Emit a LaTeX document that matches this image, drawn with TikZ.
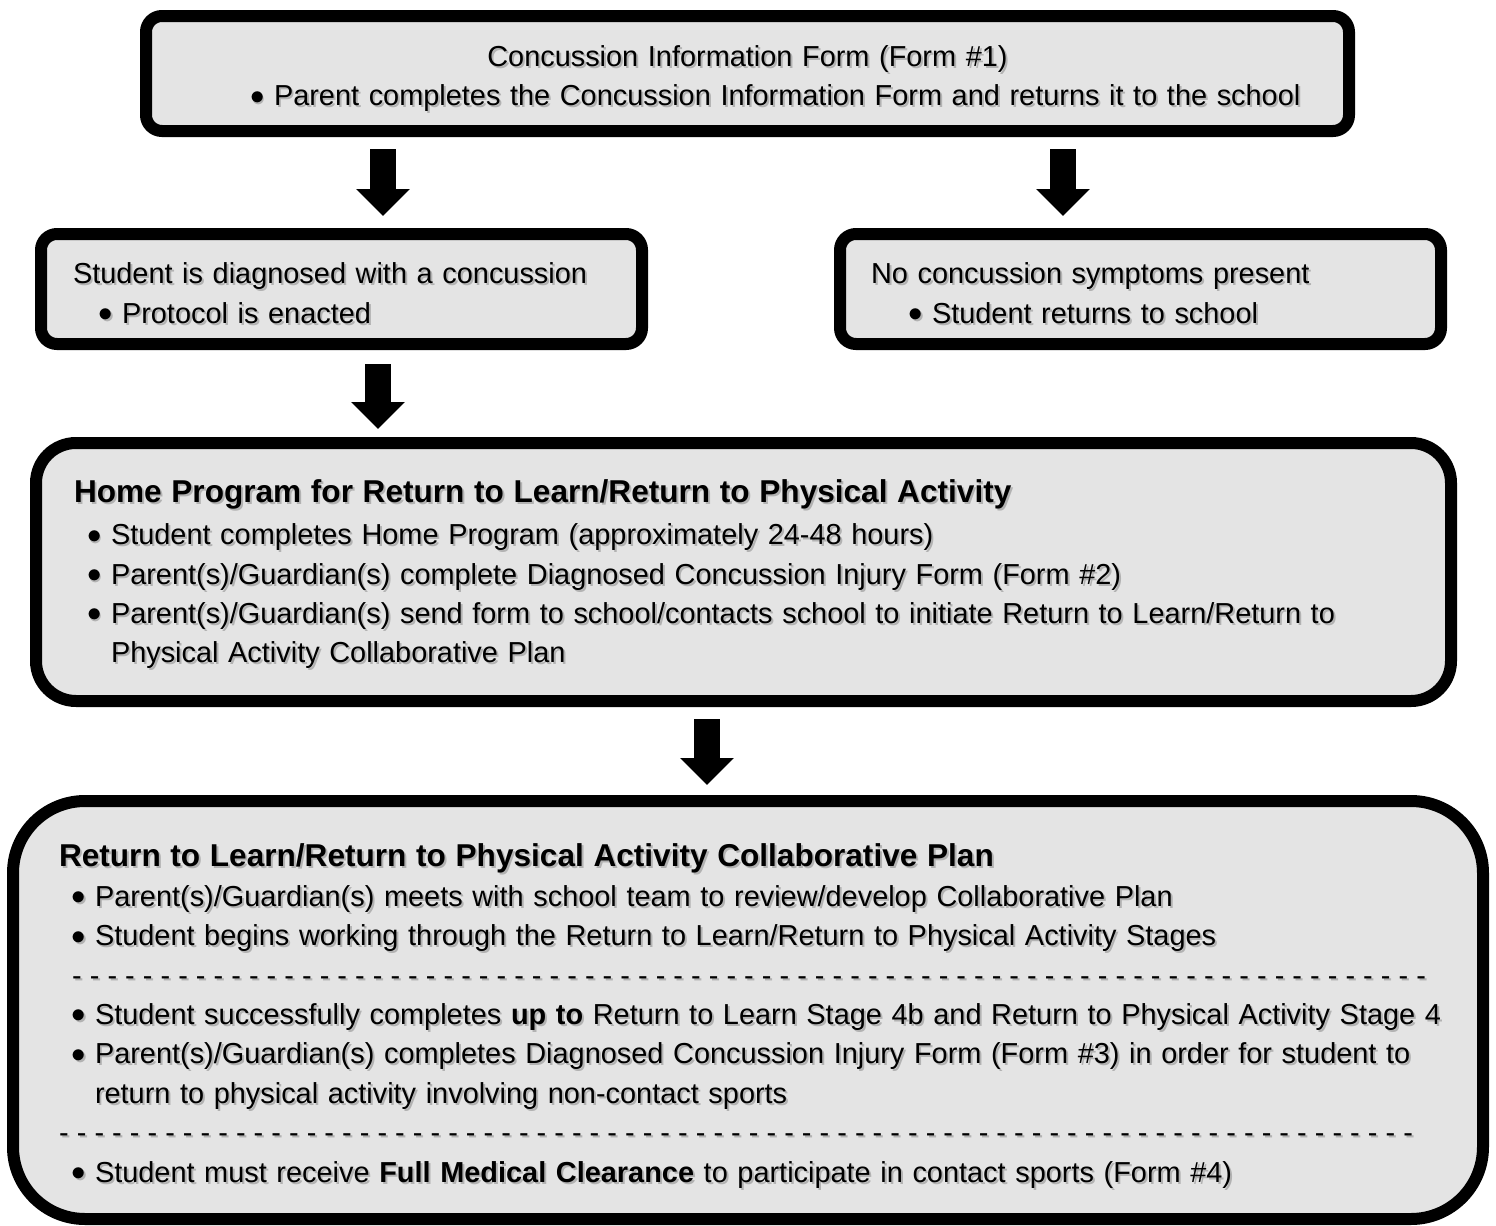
\documentclass[tikz,border=0pt]{standalone}
\usepackage{fontspec}
\setmainfont{Liberation Sans}
\usetikzlibrary{arrows.meta}
\definecolor{boxgray}{RGB}{228,228,228}
\newcommand{\sh}[1]{\leavevmode\rlap{\hspace{1pt}\raisebox{-1pt}{\textcolor{black!30}{#1}}}#1}
\newcommand{\itm}[1]{\hspace*{#1}\makebox[12pt][l]{\sh{\raisebox{0.8pt}{$\bullet$}}}}
\newcommand{\dashrow}[1]{\hspace*{#1}\sh{\hbox to 681pt{\xleaders\hbox to 8.75pt{-\hss}\hfil}}}
\newcommand{\ttl}[1]{{\fontsize{15.8}{19.7}\selectfont\bfseries\sh{#1}}}

\begin{document}
\begin{tikzpicture}[x=0.5pt,y=-0.5pt,
  formbox/.style={draw,line width=6pt,fill=boxgray,rounded corners=8pt,
    inner xsep=0pt,inner ysep=0pt,align=left,
    font=\fontsize{14.45}{19.7}\selectfont},
  blockarrow/.style={line width=13pt,-{Triangle[width=26pt,length=13.5pt]}}]
  \useasboundingbox (0,0) rectangle (1496,1226);

  \node[formbox,text width=601.5pt,minimum height=57.5pt] (info) at (747.5,73.5)
    {\rule{0pt}{16.5pt}\makebox[\linewidth]{\sh{Concussion Information Form (Form \#1)}}\\
     \itm{52pt}\sh{Parent completes the Concussion Information Form and returns it to the school}};
  \node[formbox,text width=300.5pt,minimum height=55pt] (diag) at (341.5,289)
    {\hspace*{16pt}\rule{0pt}{15.5pt}\sh{Student is diagnosed with a concussion}\\
     \itm{28.5pt}\sh{Protocol is enacted}};
  \node[formbox,text width=300.5pt,minimum height=55pt] (none) at (1140.5,289)
    {\hspace*{15.5pt}\rule{0pt}{15.5pt}\sh{No concussion symptoms present}\\
     \itm{34pt}\sh{Student returns to school}};
  \node[formbox,rounded corners=20pt,text width=707.5pt,minimum height=129pt] (home) at (743.5,572)
    {\hspace*{19pt}\rule{0pt}{14.5pt}\ttl{Home Program for Return to Learn/Return to Physical Activity}\\[1.5pt]
     \itm{25.5pt}\sh{Student completes Home Program (approximately 24-48 hours)}\\
     \itm{25.5pt}\sh{Parent(s)/Guardian(s) complete Diagnosed Concussion Injury Form (Form \#2)}\\
     \itm{25.5pt}\sh{Parent(s)/Guardian(s) send form to school/contacts school to initiate Return to Learn/Return to}\\
     \hspace*{37.5pt}\sh{Physical Activity Collaborative Plan}};
  \node[formbox,rounded corners=36pt,text width=735pt,minimum height=209pt] (plan) at (748,1010)
    {\hspace*{23pt}\rule{0pt}{18.5pt}\ttl{Return to Learn/Return to Physical Activity Collaborative Plan}\\
     \itm{29pt}\sh{Parent(s)/Guardian(s) meets with school team to review/develop Collaborative Plan}\\
     \itm{29pt}\sh{Student begins working through the Return to Learn/Return to Physical Activity Stages}\\
     \dashrow{29.5pt}\\
     \itm{29pt}\sh{Student successfully completes \textbf{up to} Return to Learn Stage 4b and Return to Physical Activity Stage 4}\\
     \itm{29pt}\sh{Parent(s)/Guardian(s) completes Diagnosed Concussion Injury Form (Form \#3) in order for student to}\\
     \hspace*{41pt}\sh{return to physical activity involving non-contact sports}\\
     \dashrow{23pt}\\
     \itm{29pt}\sh{Student must receive \textbf{Full Medical Clearance} to participate in contact sports (Form \#4)}};

  \coordinate (c1) at (383,0);
  \coordinate (c2) at (1063,0);
  \coordinate (c3) at (378,0);
  \coordinate (c4) at (707,0);
  \foreach \from/\to/\at/\s/\e in {info/diag/c1/6pt/6pt,info/none/c2/6pt/6pt,
      diag/home/c3/7pt/4pt,home/plan/c4/6pt/5pt}
    \draw[blockarrow,shorten <=\s,shorten >=\e] (\from.south -| \at) -- (\to.north -| \at);
\end{tikzpicture}
\end{document}
